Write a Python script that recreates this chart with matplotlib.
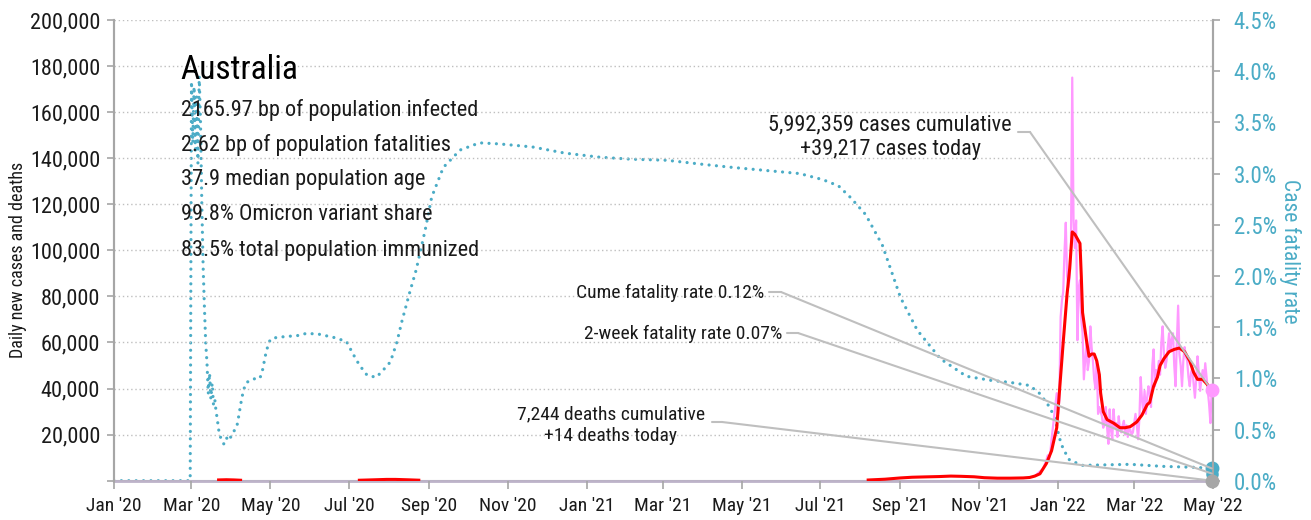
import pandas as pd
import matplotlib
matplotlib.use("Agg")
import matplotlib.pyplot as plt
import matplotlib.dates as mdates
from matplotlib import font_manager
from matplotlib.ticker import FuncFormatter, MultipleLocator

# ---- data ----
avg_dates = ["2020-03-22", "2020-03-28", "2020-04-03", "2020-04-08", "2020-04-09",
             "2020-07-09", "2020-07-20", "2020-07-30", "2020-08-06", "2020-08-15", "2020-08-24", "2020-08-25",
             "2021-08-07", "2021-08-20", "2021-09-01", "2021-09-10", "2021-09-20", "2021-10-01",
             "2021-10-10", "2021-10-18", "2021-10-28", "2021-11-05", "2021-11-15", "2021-11-25",
             "2021-12-05", "2021-12-10", "2021-12-14", "2021-12-18", "2021-12-23", "2021-12-27",
             "2021-12-31", "2022-01-02", "2022-01-05", "2022-01-08", "2022-01-10", "2022-01-12",
             "2022-01-14", "2022-01-16", "2022-01-18", "2022-01-19", "2022-01-20", "2022-01-23",
             "2022-01-25", "2022-01-27", "2022-01-29", "2022-01-31", "2022-02-02", "2022-02-03",
             "2022-02-05", "2022-02-08", "2022-02-13", "2022-02-18", "2022-02-22", "2022-02-26",
             "2022-03-03", "2022-03-07", "2022-03-11", "2022-03-13", "2022-03-16", "2022-03-19",
             "2022-03-21", "2022-03-24", "2022-03-28", "2022-04-01", "2022-04-05", "2022-04-09",
             "2022-04-13", "2022-04-16", "2022-04-19", "2022-04-23", "2022-04-27", "2022-04-30"]
avg_cases = [330, 420, 330, 200, None,
             200, 380, 560, 560, 400, 220, None,
             300, 650, 1200, 1500, 1650, 1800,
             2000, 1900, 1700, 1300, 1100, 1100,
             1200, 1400, 2000, 3000, 7500, 13000,
             23000, 38000, 60000, 81000, 92000, 108000,
             107000, 105000, 103000, 89000, 73000, 61000,
             54000, 55000, 55000, 52000, 46000, 38000,
             30000, 26500, 25000, 23000, 23000, 23500,
             25500, 28500, 33000, 34000, 41000, 45000,
             50000, 53000, 56000, 57000, 57600, 56000,
             52000, 47000, 44000, 44000, 41500, 38500]

daily_start = "2021-12-15"
daily_cases = [2500, 3000, 3500, 4000, 4500, 5000, 6000, 7500, 9000, 11000, 9000, 12000,
               18000, 23000, 28000, 33000, 38000,                       # Dec
               29000, 35000, 71000, 78000, 82000, 99000, 112000, 89000, 84000, 88000,
               101000, 175000, 113000, 101000, 113000, 61000, 84000, 87000, 70000, 64000,
               44000, 52000, 60000, 48000, 52000, 67000, 58000, 52000, 44000, 40000, 52000,  # Jan
               29000, 32000, 30000, 28000, 23000, 25000, 32000, 23000, 16000, 31000, 22000,
               18000, 31000, 23000, 25000, 19000, 28000, 22000, 21000, 24000, 26000, 20000,
               24000, 19000, 23000, 22000, 20000, 21000,                # Feb
               25000, 29000, 24000, 18000, 27000, 45000, 35000, 30000, 39000, 29000, 36000,
               41000, 38000, 32000, 50000, 57000, 41000, 48000, 45000, 52000, 46000, 60000,
               67000, 55000, 49000, 52000, 58000, 64000, 57000, 61000, 64000,  # Mar
               50000, 41000, 60000, 76000, 55000, 50000, 41000, 52000, 58000, 54000, 52000,
               45000, 41000, 47000, 49000, 42000, 36000, 44000, 54000, 47000, 39000, 44000,
               48000, 43000, 51000, 45000, 39000, 33000, 25000, 39217]  # Apr

cfr_dates = ["2020-01-01", "2020-02-29", "2020-03-01", "2020-03-02", "2020-03-03", "2020-03-04",
             "2020-03-05", "2020-03-06", "2020-03-07", "2020-03-08", "2020-03-09", "2020-03-10",
             "2020-03-11", "2020-03-12", "2020-03-13", "2020-03-14", "2020-03-15", "2020-03-16",
             "2020-03-17", "2020-03-18", "2020-03-19", "2020-03-20", "2020-03-21", "2020-03-22",
             "2020-03-23", "2020-03-24", "2020-03-26", "2020-03-28", "2020-03-30", "2020-04-02",
             "2020-04-05", "2020-04-07", "2020-04-08", "2020-04-10", "2020-04-12", "2020-04-15",
             "2020-04-20", "2020-04-23", "2020-04-25", "2020-04-28", "2020-05-01", "2020-05-06",
             "2020-05-15", "2020-05-24", "2020-05-29", "2020-06-08", "2020-06-19", "2020-06-29",
             "2020-07-04", "2020-07-09", "2020-07-15", "2020-07-22", "2020-07-26", "2020-08-02",
             "2020-08-07", "2020-08-11", "2020-08-17", "2020-08-22", "2020-08-29", "2020-09-03",
             "2020-09-12", "2020-09-25", "2020-10-10", "2020-10-25", "2020-11-20", "2020-12-15",
             "2021-01-11", "2021-02-05", "2021-03-04", "2021-04-01", "2021-04-24", "2021-05-20",
             "2021-06-15", "2021-07-03", "2021-07-15", "2021-07-24", "2021-08-05", "2021-08-18",
             "2021-09-01", "2021-09-14", "2021-10-02", "2021-10-22", "2021-11-10", "2021-11-25",
             "2021-12-10", "2021-12-18", "2021-12-26", "2021-12-30", "2022-01-02", "2022-01-05",
             "2022-01-10", "2022-01-20", "2022-02-26", "2022-03-23", "2022-04-18", "2022-04-30"]
cfr_pct = [0.0, 0.0, 3.90, 3.30, 3.85, 3.20,
           3.75, 3.10, 3.95, 3.50, 2.70, 2.10,
           1.70, 1.35, 1.15, 0.85, 1.05, 0.80,
           0.95, 0.75, 0.80, 0.68, 0.60, 0.50,
           0.45, 0.40, 0.36, 0.42, 0.39, 0.47,
           0.52, 0.66, 0.74, 0.87, 0.95, 0.98,
           1.00, 1.00, 1.08, 1.27, 1.38, 1.40,
           1.41, 1.42, 1.44, 1.43, 1.40, 1.36,
           1.24, 1.13, 1.03, 1.01, 1.06, 1.16,
           1.35, 1.56, 1.84, 2.06, 2.45, 2.77,
           3.06, 3.23, 3.30, 3.29, 3.26, 3.20,
           3.16, 3.14, 3.13, 3.09, 3.06, 3.03,
           3.00, 2.94, 2.88, 2.77, 2.60, 2.30,
           1.79, 1.47, 1.19, 1.02, 0.98, 0.96,
           0.93, 0.85, 0.71, 0.59, 0.42, 0.31,
           0.20, 0.15, 0.16, 0.14, 0.13, 0.12]

last_day = "2022-04-30"
cases_today = 39217
deaths_today = 14
cfr_cume = 0.12
cfr_2week = 0.07

info_lines = ["2165.97 bp of population infected",
              "2.62 bp of population fatalities",
              "37.9 median population age",
              "99.8% Omicron variant share",
              "83.5% total population immunized"]

# ---- fonts ----
names = {f.name for f in font_manager.fontManager.ttflist}
stretch = "normal"
if "Roboto Condensed" in names:
    fam = "Roboto Condensed"
elif "Liberation Sans Narrow" in names:
    fam = "Liberation Sans Narrow"
else:
    fam = "DejaVu Sans"
    stretch = "condensed"
plt.rcParams["font.family"] = [fam, "DejaVu Sans"]
plt.rcParams["font.stretch"] = stretch

PINK = "#FF99FF"
RED = "#FF0000"
TEAL = "#4BACC6"
GRAY = "#A6A6A6"
LGRAY = "#BFBFBF"
TXT = "#1A1A1A"

W, H = 1311, 520
fig = plt.figure(figsize=(W / 100, H / 100), dpi=100)
ax = fig.add_axes([114 / W, 1 - 480.7 / H, 1099 / W, 460.7 / H])
ax2 = ax.twinx()
ax.set_zorder(ax2.get_zorder() + 1)
ax.patch.set_visible(False)

avg_x = pd.to_datetime(avg_dates)
avg_y = [float("nan") if v is None else v for v in avg_cases]
daily_x = pd.date_range(daily_start, periods=len(daily_cases), freq="D")
cfr_x = pd.to_datetime(cfr_dates)
end = pd.Timestamp(last_day)

ax.plot(daily_x, daily_cases, color=PINK, lw=1.6, zorder=2)
ax.plot(avg_x, avg_y, color=RED, lw=2.2, zorder=3)
ax2.plot(cfr_x, cfr_pct, color=TEAL, lw=2.3, linestyle=(0, (0.01, 2.3)),
         dash_capstyle="round", zorder=2)

# end markers
ax.plot([end], [cases_today], "o", color=PINK, ms=9, clip_on=False, zorder=6)
ax.plot([end], [deaths_today], "o", color=GRAY, ms=9, clip_on=False, zorder=6)
ax2.plot([end], [cfr_2week], "o", color=TEAL, ms=8, clip_on=False, zorder=6)
ax2.plot([end], [cfr_cume], "o", color=TEAL, ms=9, clip_on=False, zorder=6)

# axes
ax.set_xlim(pd.Timestamp("2020-01-01"), pd.Timestamp("2022-05-01"))
ax.set_ylim(0, 200000)
ax2.set_ylim(0, 4.5)
ax.yaxis.set_major_locator(MultipleLocator(20000))
ax.yaxis.set_major_formatter(FuncFormatter(lambda v, p: "" if v == 0 else f"{v:,.0f}"))
ax2.yaxis.set_major_locator(MultipleLocator(0.5))
ax2.yaxis.set_major_formatter(FuncFormatter(lambda v, p: f"{v:.1f}%"))
ax.xaxis.set_major_locator(mdates.MonthLocator(bymonth=[1, 3, 5, 7, 9, 11]))
ax.xaxis.set_major_formatter(mdates.DateFormatter("%b '%y"))

ax.grid(axis="y", color=LGRAY, linestyle=(0, (1, 2)), lw=1)
for a in (ax, ax2):
    a.spines["top"].set_visible(False)
    for s in ("left", "right", "bottom"):
        a.spines[s].set_color(GRAY)
        a.spines[s].set_linewidth(1.5)
ax.spines["bottom"].set_color("#BDB3C9")
ax.spines["bottom"].set_linewidth(2)
ax.spines["bottom"].set_zorder(1)
ax.tick_params(axis="y", labelsize=16, colors=GRAY, labelcolor=TXT, length=5, width=1.2, pad=5)
ax.tick_params(axis="x", labelsize=14, colors=GRAY, labelcolor=TXT, length=6, width=1.2, pad=6)
ax2.tick_params(axis="y", labelsize=16.5, colors=GRAY, labelcolor=TEAL, length=5, width=1.2, pad=10)
ax.set_ylabel("Daily new cases and deaths", fontsize=13, color=TXT)
ax.yaxis.set_label_coords(-0.079, 0.479)
ax2.set_ylabel("Case fatality rate", fontsize=15.5, color=TEAL, rotation=270, va="center")
ax2.yaxis.set_label_coords(1.070, 0.4986)

# info text block
def fx(px):
    return px / W

def fy(py):
    return 1 - py / H

fig.text(fx(180), fy(70), "Australia", fontsize=24, color="black", va="center")
for i, line in enumerate(info_lines):
    fig.text(fx(181), fy(110 + i * 35), line, fontsize=16, color=TXT, va="center")

# annotations
def axf(px, py):
    return ((px - 114) / 1099, (480.7 - py) / 460.7)

def leader(start, stub, xy, trans):
    lp = dict(arrowstyle="-", color=LGRAY, lw=1.5, shrinkA=0, shrinkB=0)
    ax.annotate("", xy=axf(*stub), xycoords="axes fraction",
                xytext=axf(*start), textcoords="axes fraction", arrowprops=lp)
    ax.annotate("", xy=xy, xycoords=trans,
                xytext=axf(*stub), textcoords="axes fraction", arrowprops=lp)

endn = mdates.date2num(end)
fig.text(fx(890), fy(137), f"5,992,359 cases cumulative\n+{cases_today:,} cases today",
         fontsize=16, color=TXT, ha="center", va="center", linespacing=1.2)
leader((1018, 132), (1030, 132), (endn, cases_today), ax.transData)

fig.text(fx(764), fy(293), f"Cume fatality rate {cfr_cume:.2f}%", fontsize=14,
         color=TXT, ha="right", va="center")
leader((769, 292), (781, 292), (endn, cfr_cume), ax2.transData)

fig.text(fx(782), fy(334), f"2-week fatality rate {cfr_2week:.2f}%", fontsize=14,
         color=TXT, ha="right", va="center")
leader((787, 333), (798, 333), (endn, cfr_2week), ax2.transData)

fig.text(fx(611), fy(425), f"7,244 deaths cumulative\n+{deaths_today} deaths today",
         fontsize=14, color=TXT, ha="center", va="center", linespacing=1.3)
leader((712, 422), (722, 422), (endn, deaths_today), ax.transData)

fig.savefig("out.png", dpi=100)
